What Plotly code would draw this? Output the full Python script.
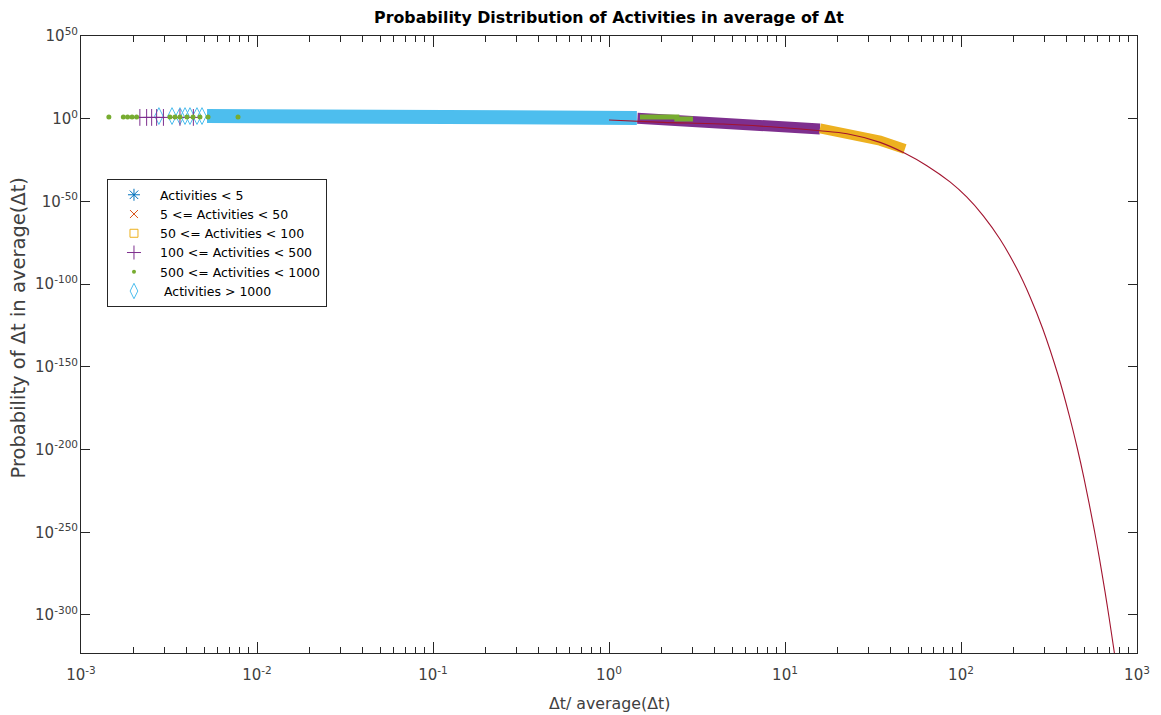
import plotly.graph_objects as go

# ---------------- data ----------------
# Activities > 1000 (cyan diamonds): isolated markers at the far left, then a dense band
cyan_sparse_x = [0.00277, 0.00329, 0.00365, 0.0039, 0.00416, 0.00456, 0.00487]
cyan_sparse_y = [40, 40, 40, 40, 40, 40, 40]
cyan_band_x = [0.0052, 0.231, 0.231, 1.44]
cyan_band_y = [40, 40, 3, 3]

# 100 <= Activities < 500 (purple plus)
purple_sparse_x = [0.00216, 0.00236, 0.00252, 0.00269, 0.00294, 0.00365, 0.00435]
purple_sparse_y = [6, 6, 6, 6, 6, 6, 6]
purple_band_x = [1.45, 2.03, 3.9, 5.6, 9.4, 15.8]
purple_band_y = [2, 0.2, 0.02, 3e-3, 1.3e-4, 6e-7]

# 50 <= Activities < 100 (yellow squares)
yellow_band_x = [15.8, 22.2, 34.7, 48]
yellow_band_y = [1.3e-6, 3e-9, 5e-14, 5e-19]

# 500 <= Activities < 1000 (green dots)
green_sparse_x = [0.00144, 0.00174, 0.00184, 0.00195, 0.00207, 0.0032, 0.00342,
                  0.00365, 0.004, 0.00433, 0.00474, 0.00527, 0.0078]
green_sparse_y = [10, 10, 10, 10, 10, 10, 10, 10, 10, 10, 10, 10, 10]
green_band_x = [1.5, 2.43, 2.43, 3.0]
green_band_y = [12, 12, 0.6, 0.6]

# fitted curve (dark red line, not in legend)
fit_x = [1.0, 2.03, 4.45, 9.4, 15.8, 22.5, 34.7, 48, 64, 86.6, 107.7, 133.9, 166.7,
         207.5, 246.6, 291, 357, 412, 458, 500, 571, 611, 658, 693, 733, 744]
fit_y = [1.6e-1, 6.3e-3, 6.3e-4, 5e-6, 5e-8, 8e-10, 5e-15, 1.3e-21, 4e-29, 6e-39,
         5e-48, 2e-59, 1.3e-73, 2.5e-91, 2.5e-108, 1.6e-127, 4e-156, 5e-180, 6e-200,
         4e-218, 6e-249, 3e-266, 1.3e-286, 8e-302, 4e-319, 1e-323]

legend_names = ["Activities < 5", "5 <= Activities < 50", "50 <= Activities < 100",
                "100 <= Activities < 500", "500 <= Activities < 1000", " Activities > 1000"]

x_tick_exp = [-3, -2, -1, 0, 1, 2, 3]
y_tick_exp = [50, 0, -50, -100, -150, -200, -250, -300]

# ---------------- styling ----------------
C_BLUE = "#0072BD"
C_ORANGE = "#D95319"
C_YELLOW = "#EDB120"
C_PURPLE = "#7E2F8E"
C_GREEN = "#77AC30"
C_CYAN = "#4DBEEE"
C_RED = "#A2142F"
AX = "#262626"
FONT = "DejaVu Sans"

fig = go.Figure()

def band(x, y, color, width):
    fig.add_trace(go.Scatter(x=x, y=y, mode="lines", line=dict(color=color, width=width),
                             showlegend=False, hoverinfo="skip"))

band(cyan_band_x, cyan_band_y, C_CYAN, 14)
band(purple_band_x, purple_band_y, C_PURPLE, 11)
band(yellow_band_x, yellow_band_y, C_YELLOW, 10)
band(green_band_x, green_band_y, C_GREEN, 5)

# legend entries (marker only), in legend order
legend_markers = [
    dict(symbol="asterisk-open", size=10, color=C_BLUE, line=dict(color=C_BLUE, width=1)),
    dict(symbol="x-thin-open", size=8, color=C_ORANGE, line=dict(color=C_ORANGE, width=1)),
    dict(symbol="square-open", size=8, color=C_YELLOW, line=dict(color=C_YELLOW, width=1)),
    dict(symbol="cross-thin-open", size=10, color=C_PURPLE, line=dict(color=C_PURPLE, width=1)),
    dict(symbol="circle", size=4, color=C_GREEN, line=dict(width=0)),
    dict(symbol="diamond-tall-open", size=11, color=C_CYAN, line=dict(color=C_CYAN, width=1)),
]
for i, (name, mk) in enumerate(zip(legend_names, legend_markers)):
    fig.add_trace(go.Scatter(x=[None], y=[None], mode="markers", name=name, marker=mk,
                             legendrank=i + 1, hoverinfo="skip"))

# isolated markers
fig.add_trace(go.Scatter(x=cyan_sparse_x, y=cyan_sparse_y, mode="markers", showlegend=False,
                         marker=dict(legend_markers[5], size=12)))
fig.add_trace(go.Scatter(x=purple_sparse_x, y=purple_sparse_y, mode="markers", showlegend=False,
                         marker=dict(legend_markers[3], size=12)))
fig.add_trace(go.Scatter(x=green_sparse_x, y=green_sparse_y, mode="markers", showlegend=False,
                         marker=dict(legend_markers[4], size=5)))

# fitted line
fig.add_trace(go.Scatter(x=fit_x, y=fit_y, mode="lines",
                         line=dict(color=C_RED, width=1.1, shape="spline", smoothing=0.8),
                         showlegend=False))

minor_vals = [m * 10.0 ** e for e in range(-3, 3) for m in range(2, 10)]

fig.update_layout(
    width=1161, height=715,
    margin=dict(l=81, r=24, t=36, b=62),
    paper_bgcolor="white", plot_bgcolor="white",
    font=dict(family=FONT, color=AX),
    title=dict(text="<b>Probability Distribution of Activities in average of Δt</b>",
               x=0.5, xref="paper", xanchor="center", y=0.975, yref="container",
               yanchor="middle", font=dict(size=15.8, color="#000000")),
    legend=dict(x=0.0246, y=0.768, xanchor="left", yanchor="top", bgcolor="white",
                bordercolor=AX, borderwidth=1, font=dict(size=12.5, color="#000000"),
                itemwidth=42, traceorder="normal"),
    xaxis=dict(type="log", range=[-3, 3], showgrid=False, zeroline=False,
               showline=True, linecolor=AX, linewidth=1, mirror="allticks",
               ticks="inside", ticklen=11, tickwidth=1, tickcolor=AX,
               tickmode="array", tickvals=[10.0 ** e for e in x_tick_exp],
               ticktext=["10<sup>%d</sup>" % e for e in x_tick_exp],
               tickfont=dict(size=15, color="#404040"), ticklabelstandoff=8,
               minor=dict(tickmode="array", tickvals=minor_vals, ticks="inside",
                          ticklen=6, tickwidth=1, tickcolor=AX, showgrid=False)),
    yaxis=dict(type="log", range=[-323, 50], showgrid=False, zeroline=False,
               showline=True, linecolor=AX, linewidth=1, mirror="allticks",
               ticks="inside", ticklen=9, tickwidth=1, tickcolor=AX,
               tickmode="array", tickvals=[10.0 ** e for e in y_tick_exp],
               ticktext=["10<sup>%d</sup>" % e for e in y_tick_exp],
               tickfont=dict(size=15, color="#404040"), ticklabelstandoff=-1),
    annotations=[
        dict(text="Δt/ average(Δt)", xref="paper", yref="paper", x=0.5, y=0,
             xanchor="center", yanchor="top", yshift=-39, showarrow=False,
             font=dict(size=15.8, color="#404040")),
        dict(text="Probability of Δt in average(Δt)", xref="paper", yref="paper",
             x=0, y=0.5, xanchor="center", yanchor="middle", xshift=-63, yshift=16,
             textangle=-90, showarrow=False, font=dict(size=19.5, color="#404040")),
    ],
)

fig.write_html("out.html", config={"displayModeBar": False},
               post_script="document.body.style.margin='0';document.body.style.overflow='hidden';")
